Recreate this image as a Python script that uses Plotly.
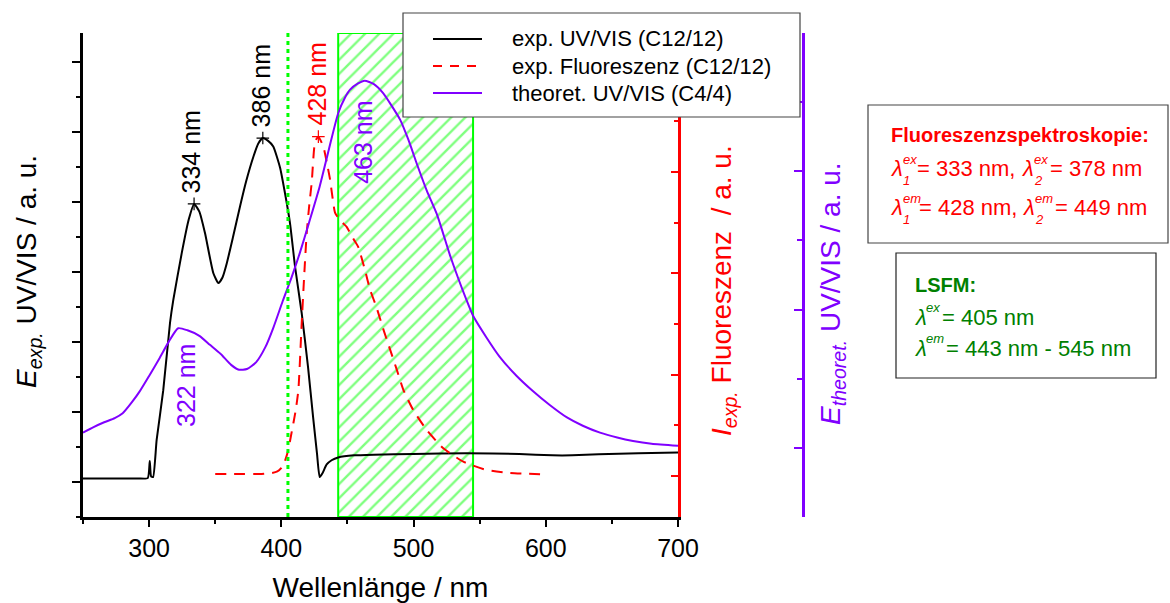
import numpy as np
import plotly.graph_objects as go

# --- experimental UV/VIS absorption (C12/12), left axis ---
uv_nm = [250, 265, 280, 292, 299, 300.5, 301.5, 303, 305.7, 310.7, 315.8, 318.3, 324.6, 330,
         334, 338, 342.3, 348.6, 352.4, 355.5, 358.7, 363.5, 368.7, 373.5, 378.8, 382.5, 386,
         390, 393.9, 399, 402.5, 406.6, 410.4, 415.4, 420.2, 424, 427, 429, 431, 434.3, 438,
         443, 455, 470, 500, 540, 580, 605, 620, 640, 670, 700]
uv_abs = [0.05, 0.05, 0.05, 0.05, 0.055, 0.30, 0.08, 0.07, 0.6, 1.31, 2.27, 2.6, 3.26, 3.75,
          3.97, 3.86, 3.55, 2.98, 2.84, 2.92, 3.12, 3.5, 3.93, 4.3, 4.64, 4.83, 4.91,
          4.87, 4.79, 4.49, 4.15, 3.69, 3.07, 2.41, 1.64, 0.93, 0.4, 0.07, 0.12, 0.25, 0.31,
          0.35, 0.38, 0.39, 0.40, 0.41, 0.40, 0.38, 0.38, 0.395, 0.41, 0.42]

# --- experimental fluorescence (C12/12), red axis ---
fl_nm = [350, 360, 372, 385, 393, 397, 400, 402.5, 405.3, 407.2, 409.1, 411, 412.9, 415.4,
         417.3, 419.2, 421.1, 423, 425.5, 428, 431.8, 434.3, 436.8, 438.8, 440.6, 444, 447,
         449.4, 452, 455, 458.2, 463.3, 467.1, 472.1, 477.1, 482.2, 487.3, 492.3, 499.8,
         509.9, 522.5, 537.6, 555.3, 573, 600]
fl_int = [0.02, 0.02, 0.02, 0.02, 0.03, 0.045, 0.08, 0.14, 0.26, 0.39, 0.52, 0.66, 0.85, 1.51,
          1.98, 2.40, 2.67, 2.90, 3.30, 3.35, 3.25, 3.1, 2.93, 2.74, 2.60, 2.53, 2.49,
          2.46, 2.40, 2.33, 2.26, 2.03, 1.84, 1.66, 1.45, 1.25, 1.05, 0.85, 0.65,
          0.454, 0.273, 0.141, 0.059, 0.03, 0.015]

# --- theoretical UV/VIS (C4/4), purple axis ---
th_nm = [250, 258, 266, 274, 280, 287, 293, 300, 308, 315, 322, 329, 338, 346, 354, 362, 368,
         374, 381, 388, 394, 401, 408, 414, 421, 429, 436, 443, 448, 452, 458, 463, 470, 477,
         483, 490, 496, 503, 510, 518, 528, 540, 545, 555, 565, 578, 590, 603, 616, 628, 641,
         654, 666, 680, 700]
th_abs = [0.11, 0.15, 0.185, 0.215, 0.25, 0.33, 0.41, 0.52, 0.65, 0.77, 0.865, 0.85, 0.81,
          0.745, 0.68, 0.60, 0.565, 0.57, 0.62, 0.73, 0.87, 1.06, 1.24, 1.41, 1.63, 1.89, 2.16,
          2.42, 2.53, 2.59, 2.635, 2.655, 2.63, 2.565, 2.48, 2.37, 2.23, 2.04, 1.86, 1.68, 1.38,
          1.07, 0.955, 0.80, 0.66, 0.52, 0.413, 0.31, 0.22, 0.16, 0.11, 0.075, 0.05, 0.03, 0.015]

# labelled maxima
uv_peaks = [334, 386]
fl_peaks = [428]
th_peaks = [322, 463]

# LSFM excitation line and detection window
lsfm_ex = 405
lsfm_em = [443, 545]

x_range = [250, 700]
y_range = [-0.5, 6.41]
y2_range = [-0.405, 4.373]
y3_range = [-0.5, 3.0]

BLACK = "#000000"
RED = "#FF0000"
PURPLE = "#8000FF"
LIME = "#00FF00"
DGREEN = "#008000"
FONT = "Liberation Sans, Arial, sans-serif"

# plot-area geometry (pixels) used for paper-coordinate placement
L, R, T, B = 83, 803, 33, 517
W, H = R - L, B - T


def px(xp):
    return (xp - L) / W


def py(yp):
    return (B - yp) / H


fig = go.Figure()

# hatched LSFM emission window
e0, e1 = lsfm_em
fig.add_trace(go.Scatter(
    x=[e0, e0, e1, e1, e0], y=[y_range[0], y_range[1], y_range[1], y_range[0], y_range[0]],
    mode="lines", fill="toself", fillcolor="rgba(0,0,0,0)",
    fillpattern=dict(shape="/", fgcolor=LIME, bgcolor="rgba(0,0,0,0)", size=10, solidity=0.24),
    line=dict(color=LIME, width=2), hoverinfo="skip", showlegend=False,
    xaxis="x", yaxis="y"))

fig.add_trace(go.Scatter(x=th_nm, y=th_abs, mode="lines", name="theoret. UV/VIS (C4/4)",
                         line=dict(color=PURPLE, width=2, shape="spline", smoothing=0.6),
                         yaxis="y3", showlegend=False))
fig.add_trace(go.Scatter(x=fl_nm, y=fl_int, mode="lines", name="exp. Fluoreszenz (C12/12)",
                         line=dict(color=RED, width=2, dash="11px,8px", shape="spline", smoothing=0.5),
                         yaxis="y2", showlegend=False))
fig.add_trace(go.Scatter(x=uv_nm, y=uv_abs, mode="lines", name="exp. UV/VIS (C12/12)",
                         line=dict(color=BLACK, width=2, shape="spline", smoothing=0.5),
                         yaxis="y", showlegend=False))

# peak markers
uv_peak_vals = [float(np.interp(p, uv_nm, uv_abs)) for p in uv_peaks]
fl_peak_vals = [float(np.interp(p, fl_nm, fl_int)) for p in fl_peaks]
th_peak_vals = [float(np.interp(p, th_nm, th_abs)) for p in th_peaks]
fig.add_trace(go.Scatter(x=uv_peaks, y=uv_peak_vals, mode="markers", yaxis="y", showlegend=False,
                         marker=dict(symbol="cross-thin", size=9, line=dict(color=BLACK, width=1.2))))
fig.add_trace(go.Scatter(x=fl_peaks, y=fl_peak_vals, mode="markers", yaxis="y2", showlegend=False,
                         marker=dict(symbol="cross-thin", size=9, line=dict(color=RED, width=1.2))))

# LSFM excitation wavelength
fig.add_shape(type="line", xref="x", yref="paper", x0=lsfm_ex, x1=lsfm_ex, y0=0, y1=1,
              line=dict(color=LIME, width=3, dash="4px,4px"))

ann = []


def peak_label(x, y, yref, color, above, xshift=0, yshift=0):
    ann.append(dict(x=x, y=y, xref="x", yref=yref, text=f"{x} nm", textangle=-90,
                    showarrow=False, font=dict(size=25, color=color, family=FONT),
                    yanchor="bottom" if above else "top", xanchor="center",
                    xshift=xshift, yshift=yshift))


peak_label(uv_peaks[0], uv_peak_vals[0], "y", BLACK, True, xshift=-3, yshift=8)
peak_label(uv_peaks[1], uv_peak_vals[1], "y", BLACK, True, xshift=-2, yshift=9)
peak_label(fl_peaks[0], fl_peak_vals[0], "y2", RED, True, xshift=-1, yshift=9)
peak_label(th_peaks[0], th_peak_vals[0], "y3", PURPLE, False, xshift=8, yshift=-14)
peak_label(th_peaks[1], th_peak_vals[1], "y3", PURPLE, False, xshift=-1, yshift=-18)


def vtitle(text, xp, yp, color):
    ann.append(dict(x=px(xp), y=py(yp), xref="paper", yref="paper", textangle=-90, showarrow=False,
                    xanchor="center", yanchor="middle", text=text,
                    font=dict(size=28, color=color, family=FONT)))


# y-axis titles
vtitle("<i>E</i><sub><i>exp.</i></sub> UV/VIS / a. u.", 28, 272, BLACK)
vtitle("<i>I</i><sub><i>exp.</i></sub> Fluoreszenz &nbsp;/ a. u.", 723, 291, RED)
vtitle("<i>E</i><sub><i>theoret.</i></sub> UV/VIS / a. u.", 833, 294, PURPLE)

# legend block
legend_rows = [("exp. UV/VIS (C12/12)", BLACK, "solid", 39),
               ("exp. Fluoreszenz (C12/12)", RED, "9px,8px", 66),
               ("theoret. UV/VIS (C4/4)", PURPLE, "solid", 93)]
fig.add_shape(type="rect", xref="paper", yref="paper", x0=px(403), x1=px(800), y0=py(117), y1=py(13),
              fillcolor="white", line=dict(color="#444444", width=1.2), layer="above")
for label, col, dash, yy in legend_rows:
    fig.add_shape(type="line", xref="paper", yref="paper", x0=px(433), x1=px(482), y0=py(yy), y1=py(yy),
                  line=dict(color=col, width=2, dash=dash), layer="above")
    ann.append(dict(x=px(510), y=py(yy), xref="paper", yref="paper", xanchor="left", yanchor="middle",
                    text=label, showarrow=False, font=dict(size=22, color=BLACK, family=FONT)))

# info boxes
fig.add_shape(type="rect", xref="paper", yref="paper", x0=px(868), x1=px(1168), y0=py(243), y1=py(105),
              line=dict(color="#444444", width=1.2), layer="above")
fig.add_shape(type="rect", xref="paper", yref="paper", x0=px(896), x1=px(1156), y0=py(378), y1=py(253),
              line=dict(color="#222222", width=1.2), layer="above")


def piece(text, xp, yp, size, color):
    ann.append(dict(x=px(xp), y=py(yp), xref="paper", yref="paper", xanchor="left", yanchor="middle",
                    text=text, showarrow=False, borderpad=0,
                    font=dict(size=size, color=color, family=FONT)))


piece("<b>Fluoreszenzspektroskopie:</b>", 890, 135, 20, RED)
# line: excitation
piece("<i>λ</i>", 890, 169, 22, RED)
piece("<i>ex</i>", 902, 159, 13, RED)
piece("<i>1</i>", 902, 180, 13, RED)
piece("= 333 nm,", 916, 169, 22, RED)
piece("<i>λ</i>", 1021, 169, 22, RED)
piece("<i>ex</i>", 1033, 159, 13, RED)
piece("<i>2</i>", 1033, 180, 13, RED)
piece("= 378 nm", 1049, 169, 22, RED)
# line: emission
piece("<i>λ</i>", 890, 208, 22, RED)
piece("<i>em</i>", 902, 198, 13, RED)
piece("<i>1</i>", 902, 219, 13, RED)
piece("= 428 nm,", 918, 208, 22, RED)
piece("<i>λ</i>", 1022, 208, 22, RED)
piece("<i>em</i>", 1034, 198, 13, RED)
piece("<i>2</i>", 1034, 219, 13, RED)
piece("= 449 nm", 1054, 208, 22, RED)

piece("<b>LSFM:</b>", 914, 285, 20, DGREEN)
piece("<i>λ</i>", 914, 317, 22, DGREEN)
piece("<i>ex</i>", 925, 307, 13, DGREEN)
piece(f"= {lsfm_ex} nm", 941, 317, 22, DGREEN)
piece("<i>λ</i>", 914, 348, 22, DGREEN)
piece("<i>em</i>", 925, 338, 13, DGREEN)
piece(f"= {lsfm_em[0]} nm - {lsfm_em[1]} nm", 945, 348, 22, DGREEN)

fig.update_layout(
    width=1170, height=603,
    margin=dict(l=L, r=1170 - R, t=T, b=603 - B, pad=0, autoexpand=False),
    paper_bgcolor="white", plot_bgcolor="white",
    font=dict(family=FONT, color=BLACK),
    showlegend=False,
    annotations=ann,
    xaxis=dict(domain=[0, (678 - L) / W], range=x_range, tick0=0, dtick=100,
               ticks="outside", ticklen=7, tickwidth=2, tickcolor=BLACK,
               minor=dict(dtick=50, ticks="outside", ticklen=4, tickwidth=2, tickcolor=BLACK),
               showline=True, linewidth=3, linecolor=BLACK, showgrid=False, zeroline=False,
               tickfont=dict(size=25, color=BLACK, family=FONT), automargin=False,
               title=dict(text="Wellenlänge / nm", font=dict(size=28, color=BLACK, family=FONT), standoff=23),
               anchor="y"),
    xaxis2=dict(overlaying="x", side="top", anchor="y", range=x_range, tick0=0, dtick=100,
                ticks="inside", ticklen=8, tickwidth=2, tickcolor=BLACK,
                minor=dict(dtick=50, ticks="inside", ticklen=4, tickwidth=2, tickcolor=BLACK),
                showticklabels=False, showline=True, linewidth=3, linecolor=BLACK,
                showgrid=False, zeroline=False, automargin=False),
    yaxis=dict(range=y_range, tick0=0, dtick=1, ticks="outside", ticklen=8, tickwidth=2, tickcolor=BLACK,
               minor=dict(dtick=0.5, ticks="outside", ticklen=4, tickwidth=2, tickcolor=BLACK),
               showticklabels=False, showline=True, linewidth=3, linecolor=BLACK,
               showgrid=False, zeroline=False, anchor="x", automargin=False),
    yaxis2=dict(overlaying="y", side="right", anchor="x", range=y2_range, tick0=0, dtick=1,
                ticks="inside", ticklen=7, tickwidth=2, tickcolor=RED,
                minor=dict(dtick=0.5, ticks="inside", ticklen=4, tickwidth=2, tickcolor=RED),
                showticklabels=False, showline=True, linewidth=3, linecolor=RED,
                showgrid=False, zeroline=False, automargin=False),
    yaxis3=dict(overlaying="y", side="right", anchor="free", position=1.0, range=y3_range, tick0=0, dtick=1,
                ticks="inside", ticklen=8, tickwidth=2, tickcolor=PURPLE,
                minor=dict(dtick=0.5, ticks="inside", ticklen=5, tickwidth=2, tickcolor=PURPLE),
                showticklabels=False, showline=True, linewidth=3, linecolor=PURPLE,
                showgrid=False, zeroline=False, automargin=False),
)

fig.write_html("out.html")
